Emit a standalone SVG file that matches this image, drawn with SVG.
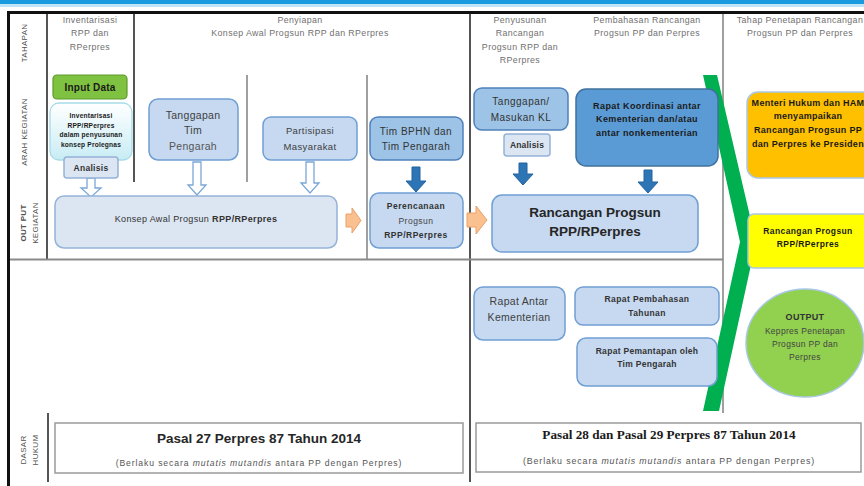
<svg xmlns="http://www.w3.org/2000/svg" width="864" height="486" viewBox="0 0 864 486">
<defs>
<style>
text{font-family:"Liberation Sans",Arial,sans-serif;}
.hdr{font-size:8.8px;fill:#707070;text-anchor:middle;letter-spacing:0.4px;}
.lbl{font-size:8px;fill:#505050;text-anchor:middle;letter-spacing:0.3px;}
.c{text-anchor:middle;}
.b{font-weight:bold;}
.box1{fill:#c6d9f0;stroke:#6f9fd3;stroke-width:1.5;}
.box2{fill:#9dc3e6;stroke:#4f81bd;stroke-width:1.5;}
.box3{fill:#dce6f2;stroke:#95b3d7;stroke-width:1.5;}
.hol{fill:#ffffff;stroke:#7ba7d7;stroke-width:1.3;}
.blu{fill:#2e75b6;stroke:#2262a0;stroke-width:1;}
.org{fill:#fac090;stroke:#e8a06a;stroke-width:1;}
.ln{stroke:#808080;stroke-width:1.5;fill:none;}
.lnd{stroke:#555555;stroke-width:2;fill:none;}
</style>
<linearGradient id="cy" x1="0" y1="0" x2="0" y2="1">
<stop offset="0" stop-color="#ffffff"/>
<stop offset="1" stop-color="#c8ecf4"/>
</linearGradient>
</defs>

<!-- top stripe and frame -->
<rect x="0" y="0" width="864" height="4" fill="#1a9be0"/>
<rect x="0" y="4" width="864" height="3" fill="#bfe5f7"/>
<line x1="8" y1="12.5" x2="864" y2="12.5" stroke="#111" stroke-width="3"/>
<line x1="8.5" y1="11" x2="8.5" y2="486" stroke="#111" stroke-width="3"/>

<g id="grid">
<line class="lnd" x1="47" y1="14" x2="47" y2="259"/>
<line class="lnd" x1="134" y1="14" x2="134" y2="182"/>
<line class="ln" x1="247" y1="75" x2="247" y2="182" stroke="#999"/>
<line class="ln" x1="367" y1="75" x2="367" y2="259"/>
<line class="lnd" x1="470" y1="14" x2="470" y2="482"/>
<line class="ln" x1="723" y1="14" x2="723" y2="413"/>
<line x1="10" y1="259.5" x2="723" y2="259.5" stroke="#8a8a8a" stroke-width="2"/>
<line class="lnd" x1="48" y1="413" x2="48" y2="482"/>
</g>

<!-- row labels -->
<g id="row-labels">
<text class="lbl" transform="translate(27,43) rotate(-90)">TAHAPAN</text>
<text class="lbl" transform="translate(27,132) rotate(-90)">ARAH KEGIATAN</text>
<text class="lbl b" transform="translate(26,223) rotate(-90)">OUT PUT</text>
<text class="lbl" transform="translate(38,223) rotate(-90)">KEGIATAN</text>
<text class="lbl" transform="translate(26,450) rotate(-90)">DASAR</text>
<text class="lbl" transform="translate(38,450) rotate(-90)">HUKUM</text>
</g>

<!-- stage headers -->
<g id="headers">
<text class="hdr" x="90" y="23">Inventarisasi</text>
<text class="hdr" x="90" y="36">RPP dan</text>
<text class="hdr" x="90" y="50">RPerpres</text>
<text class="hdr" x="300" y="23">Penyiapan</text>
<text class="hdr" x="300" y="36">Konsep Awal Progsun RPP dan RPerpres</text>
<text class="hdr" x="520" y="23">Penyusunan</text>
<text class="hdr" x="520" y="36">Rancangan</text>
<text class="hdr" x="520" y="50">Progsun RPP dan</text>
<text class="hdr" x="520" y="63">RPerpres</text>
<text class="hdr" x="647" y="23">Pembahasan Rancangan</text>
<text class="hdr" x="647" y="36">Progsun PP dan Perpres</text>
<text class="hdr" x="800" y="23">Tahap Penetapan Rancangan</text>
<text class="hdr" x="800" y="36">Progsun PP dan Perpres</text>
</g>

<!-- green chevron -->
<polygon id="chevron" points="703,75 717,75 756,242 719,411 703,411 740,242" fill="#00b050"/>

<!-- connectors -->
<g id="connectors">
<path class="hol" d="M87,178 H95 V188 H101 L91,197 L81,188 H87 Z"/>
<path class="hol" d="M193,162 H201 V185 H206 L197,195 L188,185 H193 Z"/>
<path class="hol" d="M306,162 H314 V183 H319 L310,193 L301,183 H306 Z"/>
<path class="blu" d="M412,167 H420 V181 H426 L416,192 L406,181 H412 Z"/>
<path class="blu" d="M519,163 H527 V174 H533 L523,185 L513,174 H519 Z"/>
<path class="blu" d="M644,170 H652 V182 H658 L648,193 L638,182 H644 Z"/>
<path class="org" d="M346,214 H352 V208 L361,220.5 L352,233 V227 H346 Z"/>
<path class="org" d="M467,213 H476 V206 L487,220 L476,234 V227 H467 Z"/>
</g>

<!-- nodes -->
<g id="input-data">
<rect x="53" y="75" width="74" height="24" rx="4" fill="#7fc241" stroke="#5e9a2c" stroke-width="1.2"/>
<text class="c b" x="90" y="91" font-size="10" letter-spacing="0.2" fill="#1a1a1a">Input Data</text>
</g>
<g id="inventarisasi">
<rect x="50" y="103" width="82" height="57" rx="9" fill="url(#cy)" stroke="#a6dbe8" stroke-width="1.3"/>
<text class="c b" x="91" y="118" font-size="6.6" letter-spacing="0.2" fill="#1a1a1a">Inventarisasi</text>
<text class="c b" x="91" y="127.5" font-size="6.6" letter-spacing="0.2" fill="#1a1a1a">RPP/RPerpres</text>
<text class="c b" x="91" y="137" font-size="6.6" letter-spacing="0.2" fill="#1a1a1a">dalam penyusunan</text>
<text class="c b" x="91" y="146.5" font-size="6.6" letter-spacing="0.2" fill="#1a1a1a">konsep Prolegnas</text>
</g>
<g id="analisis-1">
<rect class="box3" x="64" y="157" width="54" height="21" rx="3"/>
<text class="c b" x="91" y="171" font-size="8.5" letter-spacing="0.3" fill="#333">Analisis</text>
</g>
<g id="tanggapan-tim">
<rect class="box1" x="149" y="99" width="89" height="61" rx="9"/>
<text class="c" x="193" y="119" font-size="10.5" letter-spacing="0.3" fill="#404040">Tanggapan</text>
<text class="c" x="193" y="134" font-size="10.5" letter-spacing="0.3" fill="#404040">Tim</text>
<text class="c" x="193" y="150" font-size="10.5" letter-spacing="0.3" fill="#555">Pengarah</text>
</g>
<g id="partisipasi">
<rect class="box1" x="263" y="117" width="94" height="43" rx="8"/>
<text class="c" x="310" y="134" font-size="9.5" letter-spacing="0.4" fill="#404040">Partisipasi</text>
<text class="c" x="310" y="150" font-size="9.5" letter-spacing="0.4" fill="#404040">Masyarakat</text>
</g>
<g id="tim-bphn">
<rect class="box2" x="370" y="117" width="93" height="43" rx="8"/>
<text class="c" x="416" y="135" font-size="10" letter-spacing="0.5" fill="#333">Tim BPHN dan</text>
<text class="c" x="416" y="150" font-size="10" letter-spacing="0.5" fill="#333">Tim Pengarah</text>
</g>
<g id="tanggapan-kl">
<rect class="box2" x="474" y="88" width="94" height="42" rx="8"/>
<text class="c" x="521" y="105" font-size="10" letter-spacing="0.5" fill="#333">Tanggapan/</text>
<text class="c" x="521" y="121" font-size="10" letter-spacing="0.5" fill="#333">Masukan KL</text>
</g>
<g id="analisis-2">
<rect class="box3" x="504" y="134" width="46" height="22" rx="3"/>
<text class="c b" x="527" y="148" font-size="8.5" letter-spacing="0.2" fill="#333">Analisis</text>
</g>
<g id="rapat-koordinasi">
<rect x="576" y="89" width="142" height="77" rx="10" fill="#5b9bd5" stroke="#41719c" stroke-width="1.5"/>
<text class="c b" x="647" y="109" font-size="9" letter-spacing="0.4" fill="#1a1a1a">Rapat Koordinasi antar</text>
<text class="c b" x="647" y="122" font-size="9" letter-spacing="0.4" fill="#1a1a1a">Kementerian dan/atau</text>
<text class="c b" x="647" y="136" font-size="9" letter-spacing="0.4" fill="#1a1a1a">antar nonkementerian</text>
</g>
<g id="konsep-awal">
<rect class="box3" x="55" y="196" width="282" height="52" rx="9"/>
<text class="c" x="196" y="222" font-size="9" letter-spacing="0.35" fill="#333">Konsep Awal  Progsun <tspan font-weight="bold">RPP/RPerpres</tspan></text>
</g>
<g id="perencanaan">
<rect class="box1" x="370" y="193" width="93" height="55" rx="9"/>
<text class="c b" x="416" y="209" font-size="8.5" letter-spacing="0.5" fill="#333">Perencanaan</text>
<text class="c" x="416" y="224" font-size="8.5" letter-spacing="0.5" fill="#444">Progsun</text>
<text class="c b" x="416" y="238" font-size="8.5" letter-spacing="0.5" fill="#333">RPP/RPerpres</text>
</g>
<g id="rancangan-progsun">
<rect class="box1" x="492" y="195" width="206" height="57" rx="10"/>
<text class="c b" x="595" y="217" font-size="13.5" fill="#262626">Rancangan Progsun</text>
<text class="c b" x="595" y="236" font-size="13.5" fill="#262626">RPP/RPerpres</text>
</g>
<g id="menteri">
<rect x="747" y="92" width="135" height="86" rx="11" fill="#ffc000" stroke="#a9c8e8" stroke-width="1.5"/>
<text class="c b" x="808" y="106" font-size="9" letter-spacing="0.3" fill="#1a1a1a">Menteri Hukum dan HAM</text>
<text class="c b" x="808" y="119" font-size="9" letter-spacing="0.3" fill="#1a1a1a">menyampaikan</text>
<text class="c b" x="808" y="133" font-size="9" letter-spacing="0.3" fill="#1a1a1a">Rancangan Progsun PP</text>
<text class="c b" x="808" y="147" font-size="9" letter-spacing="0.3" fill="#1a1a1a">dan Perpres  ke Presiden</text>
</g>
<g id="rancangan-rpp">
<rect x="748" y="214" width="134" height="54" rx="6" fill="#ffff00" stroke="#a9c8e8" stroke-width="1.5"/>
<text class="c b" x="808" y="234" font-size="8.5" letter-spacing="0.4" fill="#1a1a1a">Rancangan Progsun</text>
<text class="c b" x="808" y="247" font-size="8.5" letter-spacing="0.4" fill="#1a1a1a">RPP/RPerpres</text>
</g>
<g id="output">
<ellipse cx="805" cy="343" rx="59" ry="54" fill="#92d050" stroke="#a9c8e8" stroke-width="1.5"/>
<text class="c b" x="805" y="320" font-size="9" letter-spacing="0.3" fill="#333">OUTPUT</text>
<text class="c" x="805" y="334" font-size="8.5" letter-spacing="0.3" fill="#444">Keppres Penetapan</text>
<text class="c" x="805" y="347" font-size="8.5" letter-spacing="0.3" fill="#444">Progsun PP dan</text>
<text class="c" x="805" y="360" font-size="8.5" letter-spacing="0.3" fill="#444">Perpres</text>
</g>
<g id="rapat-antar">
<rect class="box1" x="474" y="287" width="91" height="53" rx="9"/>
<text class="c" x="519" y="305" font-size="10.5" letter-spacing="0.3" fill="#404040">Rapat Antar</text>
<text class="c" x="519" y="321" font-size="10.5" letter-spacing="0.3" fill="#404040">Kementerian</text>
</g>
<g id="rapat-pembahasan">
<rect class="box1" x="575" y="287" width="144" height="38" rx="8"/>
<text class="c b" x="647" y="302" font-size="8.5" letter-spacing="0.4" fill="#333">Rapat Pembahasan</text>
<text class="c b" x="647" y="316" font-size="8.5" letter-spacing="0.4" fill="#333">Tahunan</text>
</g>
<g id="rapat-pemantapan">
<rect class="box1" x="577" y="338" width="140" height="48" rx="9"/>
<text class="c b" x="647" y="354" font-size="8.5" letter-spacing="0.3" fill="#333">Rapat Pemantapan oleh</text>
<text class="c b" x="647" y="367" font-size="8.5" letter-spacing="0.3" fill="#333">Tim Pengarah</text>
</g>
<g id="pasal-27">
<rect x="55" y="423" width="408" height="50" fill="#ffffff" stroke="#9a9a9a" stroke-width="1.5"/>
<text class="c b" x="259" y="443" font-size="13.5" fill="#262626">Pasal 27 Perpres 87 Tahun 2014</text>
<text class="c" x="259" y="466" font-size="8.6" letter-spacing="0.9" fill="#555">(Berlaku secara <tspan font-style="italic">mutatis mutandis</tspan> antara PP dengan Perpres)</text>
</g>
<g id="pasal-28-29">
<rect x="476" y="423" width="385" height="49" fill="#ffffff" stroke="#9a9a9a" stroke-width="1.5"/>
<text class="c b" x="669" y="439" font-size="13.2" fill="#1a1a1a" style="font-family:'Liberation Serif','Times New Roman',serif">Pasal 28 dan Pasal 29 Perpres 87 Tahun 2014</text>
<text class="c" x="669" y="464" font-size="8.8" letter-spacing="0.9" fill="#555">(Berlaku secara <tspan font-style="italic">mutatis mutandis</tspan> antara PP dengan Perpres)</text>
</g>
</svg>
